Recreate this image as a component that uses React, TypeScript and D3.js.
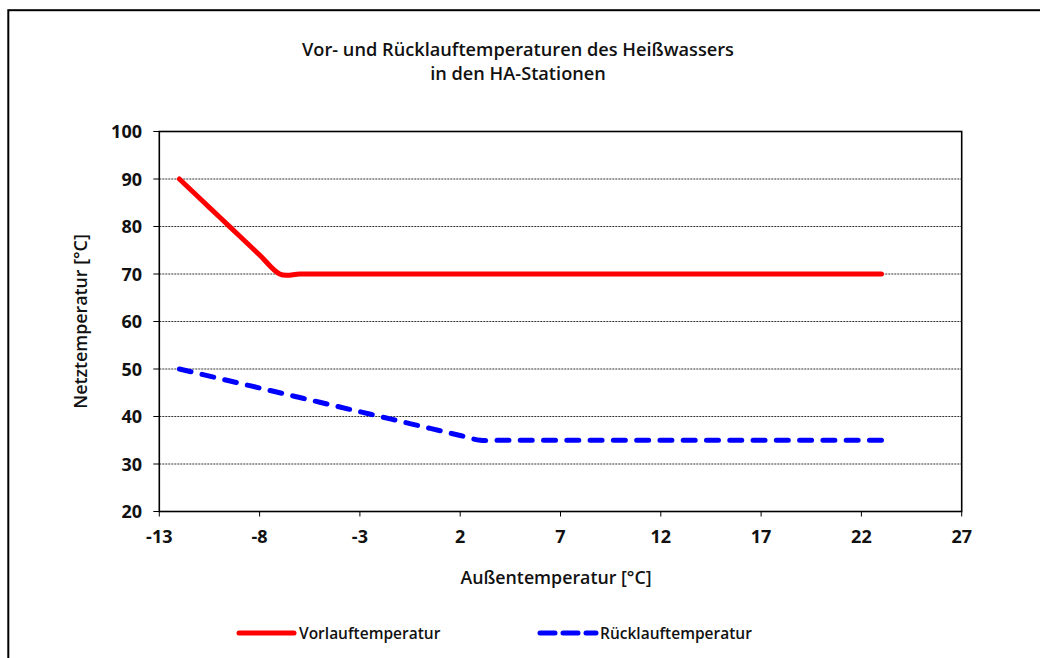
import React from "react";
import * as d3 from "d3";

// ---- data ----
const outdoorTemps: number[] = [-12, -11, -10, -9, -8, -7, -6, -5, -4, -3, -2, -1, 0, 1, 2, 3, 4, 5, 6, 7, 8, 9, 10, 11, 12, 13, 14, 15, 16, 17, 18, 19, 20, 21, 22, 23];
const vorlauf: number[] = [90, 86, 82, 78, 74, 70, 70, 70, 70, 70, 70, 70, 70, 70, 70, 70, 70, 70, 70, 70, 70, 70, 70, 70, 70, 70, 70, 70, 70, 70, 70, 70, 70, 70, 70, 70];
const ruecklauf: number[] = [50, 49, 48, 47, 46, 45, 44, 43, 42, 41, 40, 39, 38, 37, 36, 35, 35, 35, 35, 35, 35, 35, 35, 35, 35, 35, 35, 35, 35, 35, 35, 35, 35, 35, 35, 35];
const xTicks: number[] = [-13, -8, -3, 2, 7, 12, 17, 22, 27];
const yTicks: number[] = [20, 30, 40, 50, 60, 70, 80, 90, 100];
const titleLines: string[] = ["Vor- und Rücklauftemperaturen des Heißwassers", "in den HA-Stationen"];
const xTitle = "Außentemperatur [°C]";
const yTitle = "Netztemperatur [°C]";
const seriesNames: string[] = ["Vorlauftemperatur", "Rücklauftemperatur"];

const W = 1040;
const H = 658;
const L = 159.3;
const R = 961.7;
const T = 131.5;
const B = 511.5;
const FONT = "'Open Sans', 'DejaVu Sans', sans-serif";

export default function App() {
  const x = d3.scaleLinear().domain([-13, 27]).range([L, R]);
  const y = d3.scaleLinear().domain([20, 100]).range([B, T]);
  const line = d3
    .line<[number, number]>()
    .x((d) => x(d[0]))
    .y((d) => y(d[1]))
    .curve(d3.curveCatmullRom.alpha(0));
  const vPts = outdoorTemps.map((t, i) => [t, vorlauf[i]] as [number, number]);
  const rPts = outdoorTemps.map((t, i) => [t, ruecklauf[i]] as [number, number]);

  // fit dash period so the dashed line starts and ends with a dash
  let len = 0;
  for (let i = 1; i < rPts.length; i++) {
    const dx = x(rPts[i][0]) - x(rPts[i - 1][0]);
    const dy = y(rPts[i][1]) - y(rPts[i - 1][1]);
    len += Math.hypot(dx, dy);
  }
  const dash = 12;
  const n = Math.round((len - dash) / 23);
  const gap = (len - dash) / n - dash;

  return (
    <svg
      width={W}
      height={H}
      style={{ position: "absolute", left: 0, top: 0, display: "block", background: "#fff" }}
      fontFamily={FONT}
    >
      <rect x={0} y={0} width={W} height={H} fill="#fff" />
      {/* outer frame */}
      <rect x={8.3} y={10.2} width={W + 20} height={H + 20} fill="none" stroke="#000" strokeWidth={2} />

      {/* title */}
      {titleLines.map((t, i) => (
        <text key={i} x={518} y={56 + i * 24} textAnchor="middle" fontSize={18.2} fontWeight={600} fill="#111">
          {t}
        </text>
      ))}

      {/* gridlines */}
      {yTicks
        .filter((v) => v > 20 && v < 100)
        .map((v) => (
          <line key={v} x1={L} x2={R} y1={y(v)} y2={y(v)} stroke="#333" strokeWidth={1} strokeDasharray="2 1" />
        ))}

      {/* plot frame */}
      <rect x={L} y={T} width={R - L} height={B - T} fill="none" stroke="#000" strokeWidth={1.6} />

      {/* y ticks */}
      {yTicks.map((v) => (
        <g key={v}>
          <line x1={L - 6} x2={L} y1={y(v)} y2={y(v)} stroke="#000" strokeWidth={1} />
          <text x={142} y={y(v) + 6.5} textAnchor="end" fontSize={18} fontWeight={700} fill="#111">
            {v}
          </text>
        </g>
      ))}

      {/* x ticks */}
      {xTicks.map((v) => (
        <g key={v}>
          <line x1={x(v)} x2={x(v)} y1={B} y2={B + 5} stroke="#000" strokeWidth={1} />
          <text x={x(v)} y={543} textAnchor="middle" fontSize={18} fontWeight={700} fill="#111">
            {v}
          </text>
        </g>
      ))}

      {/* axis titles */}
      <text x={556} y={584} textAnchor="middle" fontSize={17.8} fontWeight={600} fill="#111">
        {xTitle}
      </text>
      <text
        transform={`translate(87, ${(T + B) / 2}) rotate(-90)`}
        textAnchor="middle"
        fontSize={17.8}
        fontWeight={600}
        fill="#111"
      >
        {yTitle}
      </text>

      {/* series */}
      <path d={line(vPts) || ""} fill="none" stroke="#ff0000" strokeWidth={5} strokeLinecap="round" strokeLinejoin="round" />
      <path
        d={line(rPts) || ""}
        fill="none"
        stroke="#0000ff"
        strokeWidth={5}
        strokeLinecap="round"
        strokeDasharray={`${dash} ${gap}`}
      />

      {/* legend */}
      <line x1={239} x2={294} y1={633} y2={633} stroke="#ff0000" strokeWidth={5} strokeLinecap="round" />
      <text x={299} y={638.5} fontSize={15.5} fontWeight={600} fill="#111">
        {seriesNames[0]}
      </text>
      <line
        x1={540}
        x2={596}
        y1={633}
        y2={633}
        stroke="#0000ff"
        strokeWidth={5}
        strokeLinecap="round"
        strokeDasharray="15 8"
      />
      <text x={600} y={638.5} fontSize={15.5} fontWeight={600} fill="#111">
        {seriesNames[1]}
      </text>
    </svg>
  );
}
